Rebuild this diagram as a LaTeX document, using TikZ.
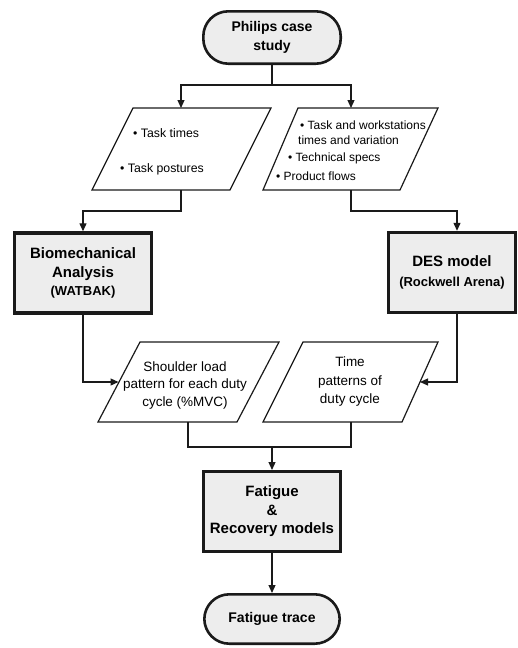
\documentclass[tikz,border=0pt]{standalone}
\usepackage{fontspec}
\setmainfont{Liberation Sans}
\usetikzlibrary{arrows.meta,calc}
\definecolor{boxfill}{HTML}{EDEDED}
\definecolor{ink}{HTML}{1A1A1A}
\begin{document}
\begin{tikzpicture}[x=1pt,y=-1pt,
  term/.style={draw=ink, line width=2.6pt, fill=boxfill, rounded corners=25pt, inner sep=0pt, align=center, font=\bfseries\fontsize{14}{19}\selectfont},
  proc/.style={draw=ink, line width=3.4pt, fill=boxfill, inner sep=0pt, align=center, font=\bfseries\fontsize{15}{18.5}\selectfont},
  para/.style={draw=ink, line width=1.2pt, line join=miter},
  bul/.style={inner sep=0pt, anchor=base west, font=\fontsize{12.3}{15}\selectfont},
  lbl/.style={inner sep=0pt, align=center, font=\fontsize{13.5}{17.5}\selectfont},
  conn/.style={draw=ink, line width=1.2pt},
  arr/.style={conn, -{Triangle[length=8pt,width=7pt]}},
]
\useasboundingbox (0,0) rectangle (518,648);

% terminators
\node[term, minimum width=137.4pt, minimum height=52.4pt] (phil) at (272,37.5) {Philips case\\study};
\node[term, minimum width=135.4pt, minimum height=49.4pt] (trace) at (272,619) {Fatigue trace};

% process boxes
\node[proc, minimum width=136.6pt, minimum height=80pt] (bio) at (83,273)
  {Biomechanical\\Analysis\\{\fontsize{13}{18.5}\selectfont (WATBAK)}};
\node[proc, minimum width=126.6pt, minimum height=80pt] (des) at (452,272.5)
  {DES model\\[1pt]{\fontsize{13}{18.5}\selectfont (Rockwell Arena)}};
\node[proc, minimum width=136.6pt, minimum height=79.6pt] (fat) at (272,511.5)
  {Fatigue\\\&\\Recovery models};

% top-left data parallelogram
\draw[para] (92,190) -- (230,190) -- (271,108) -- (133,108) -- cycle;
\coordinate (p1n) at (181,108);
\coordinate (p1s) at (181,190);
\node[bul] (t1) at (133,137.5) {• Task times};
\node[bul] (t2) at (120,172.5) {• Task postures};

% top-right data parallelogram
\draw[para] (263,190) -- (400,190) -- (438,108) -- (298,108) -- cycle;
\coordinate (p2n) at (351,108);
\coordinate (p2s) at (351,190);
\node[bul, font=\fontsize{12}{15}\selectfont] (r1) at (300,129.5) {• Task and workstations};
\node[bul, font=\fontsize{12}{15}\selectfont] (r2) at (298,144.5) {times and variation};
\node[bul, font=\fontsize{12}{15}\selectfont] (r3) at (288,161.5) {• Technical specs};
\node[bul, font=\fontsize{12}{15}\selectfont] (r4) at (276,180.5) {• Product flows};

% shoulder load parallelogram
\draw[para] (98,422) -- (237,422) -- (279,342) -- (140,342) -- cycle;
\node[lbl] (shl) at (185,385.5) {Shoulder load\\pattern for each duty\\cycle (\%MVC)};
\coordinate (shw) at (118.5,382);
\coordinate (shs) at (188,422);

% time patterns parallelogram
\draw[para] (263,422) -- (402,422) -- (438,342) -- (303,342) -- cycle;
\node[lbl, font=\fontsize{13.5}{18.5}\selectfont] (tml) at (350,382) {Time\\patterns of\\duty cycle};
\coordinate (tme) at (420,382);
\coordinate (tms) at (351,422);

% connectors
\coordinate (split) at (272,85);
\draw[conn] (phil.south) -- (split);
\draw[arr] (split) -| (p1n);
\draw[arr] (split) -| (p2n);

\draw[arr] (p1s) -- ++(0,21) -| (bio.north);
\draw[arr] (p2s) -- ++(0,21) -| ($(des.north)+(5,0)$);

\draw[arr] (bio.south) |- (shw);
\draw[arr] ($(des.south)+(5,0)$) |- (tme);

\coordinate (merge) at (272,447);
\draw[conn] (shs) -- ++(0,25) -| (tms);
\draw[arr] (merge) -- (fat.north);

\draw[arr] (fat.south) -- (trace.north);
\end{tikzpicture}
\end{document}
